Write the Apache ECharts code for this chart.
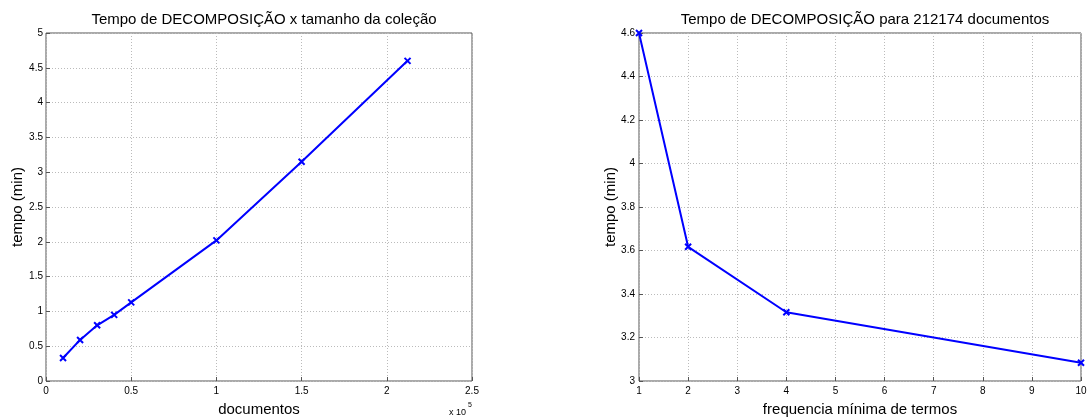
<!DOCTYPE html>
<html>
<head>
<meta charset="utf-8">
<script src="https://cdn.jsdelivr.net/npm/echarts@6/dist/echarts.min.js"></script>
<style>
  html, body { margin: 0; padding: 0; background: #fff; }
  #chart { width: 1088px; height: 418px; }
</style>
</head>
<body>
<div id="chart"></div>
<script>
// left plot: time vs collection size
var docs = [10000, 20000, 30000, 40000, 50000, 100000, 150000, 212174];
var tempoDocs = [0.33, 0.59, 0.80, 0.95, 1.13, 2.02, 3.15, 4.60];
// right plot: time vs minimum term frequency
var freqMin = [1, 2, 4, 10];
var tempoFreq = [4.60, 3.617, 3.316, 3.084];

var font = "'Liberation Sans', Arial, sans-serif";
var markX = 'path://M0,0L10,10M10,0L0,10';

function pairs(xs, ys) {
  return xs.map(function (x, i) { return [x, ys[i]]; });
}

var axisCommon = {
  axisLine: { show: false },
  axisTick: { show: true, inside: true, length: 4, lineStyle: { color: '#555' } },
  splitLine: { show: true, lineStyle: { color: '#bbb', type: [1, 2], width: 1 } },
  axisLabel: { color: '#000', fontSize: 10, fontFamily: font },
  nameMoveOverlap: false
};

function axis(extra) {
  return Object.assign({}, JSON.parse(JSON.stringify(axisCommon)), extra);
}

var chart = echarts.init(document.getElementById('chart'));
var option = {
  animation: false,
  backgroundColor: '#fff',
  title: [
    { text: 'Tempo de DECOMPOSIÇÃO x tamanho da coleção', left: 259, top: 7, textAlign: 'center',
      textStyle: { fontSize: 15, fontWeight: 'normal', color: '#000', fontFamily: font } },
    { text: 'Tempo de DECOMPOSIÇÃO para 212174 documentos', left: 860, top: 7, textAlign: 'center',
      textStyle: { fontSize: 15, fontWeight: 'normal', color: '#000', fontFamily: font } }
  ],
  grid: [
    { left: 46, right: 616, top: 33, bottom: 37, show: true, borderColor: '#555', borderWidth: 1,
      outerBoundsMode: 'none', containLabel: false },
    { left: 639, right: 7, top: 33, bottom: 37, show: true, borderColor: '#555', borderWidth: 1,
      outerBoundsMode: 'none', containLabel: false }
  ],
  xAxis: [
    axis({ type: 'value', gridIndex: 0, min: 0, max: 250000, interval: 50000,
      name: 'documentos', nameLocation: 'middle', nameGap: 21,
      nameTextStyle: { fontSize: 15, color: '#000', fontFamily: font },
      axisLabel: { color: '#000', fontSize: 10, fontFamily: font, margin: 5,
        formatter: function (v) { return String(v / 100000); } } }),
    axis({ type: 'value', gridIndex: 1, min: 1, max: 10, interval: 1,
      name: 'frequencia mínima de termos', nameLocation: 'middle', nameGap: 21,
      nameTextStyle: { fontSize: 15, color: '#000', fontFamily: font },
      axisLabel: { color: '#000', fontSize: 10, fontFamily: font, margin: 5 } })
  ],
  yAxis: [
    axis({ type: 'value', gridIndex: 0, min: 0, max: 5, interval: 0.5,
      name: 'tempo (min)', nameLocation: 'middle', nameGap: 21,
      nameTextStyle: { fontSize: 15, color: '#000', fontFamily: font },
      axisLabel: { color: '#000', fontSize: 10, fontFamily: font, margin: 3 } }),
    axis({ type: 'value', gridIndex: 1, min: 3, max: 4.6, interval: 0.2,
      name: 'tempo (min)', nameLocation: 'middle', nameGap: 21,
      nameTextStyle: { fontSize: 15, color: '#000', fontFamily: font },
      axisLabel: { color: '#000', fontSize: 10, fontFamily: font, margin: 4,
        formatter: function (v) { return String(Math.round(v * 10) / 10); } } })
  ],
  graphic: [
    { type: 'text', left: 449, top: 408,
      style: { text: 'x 10', fontSize: 9, fill: '#000', fontFamily: font } },
    { type: 'text', left: 468, top: 402,
      style: { text: '5', fontSize: 7, fill: '#000', fontFamily: font } }
  ],
  series: [
    { type: 'line', xAxisIndex: 0, yAxisIndex: 0, data: pairs(docs, tempoDocs),
      lineStyle: { color: '#0000ff', width: 2 }, symbol: markX, symbolSize: 6,
      itemStyle: { color: '#0000ff', borderColor: '#0000ff', borderWidth: 2 } },
    { type: 'line', xAxisIndex: 1, yAxisIndex: 1, data: pairs(freqMin, tempoFreq),
      lineStyle: { color: '#0000ff', width: 2 }, symbol: markX, symbolSize: 6,
      itemStyle: { color: '#0000ff', borderColor: '#0000ff', borderWidth: 2 } }
  ]
};
chart.setOption(option, true);
</script>
</body>
</html>
